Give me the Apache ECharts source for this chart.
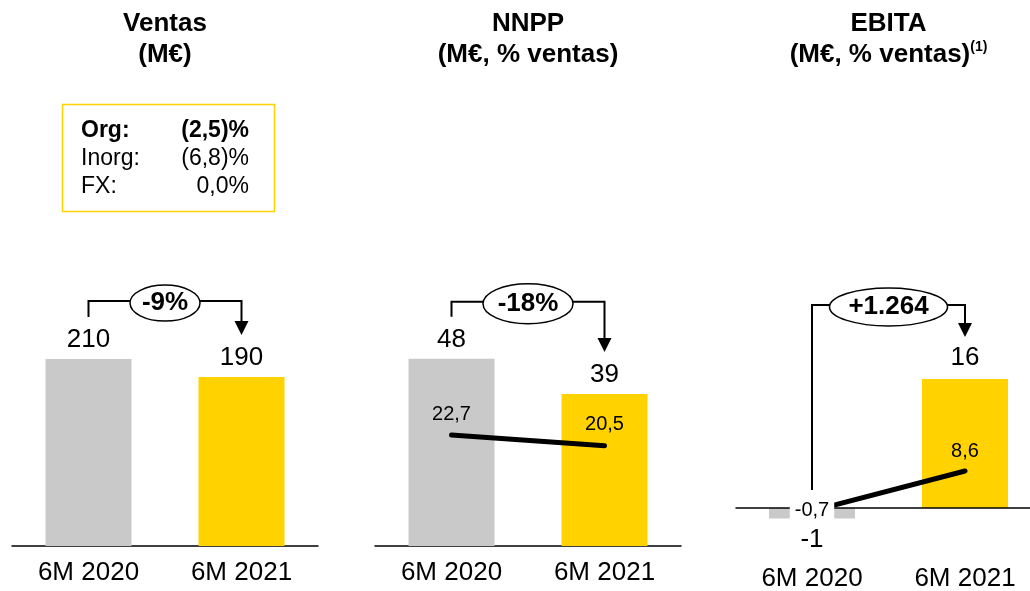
<!DOCTYPE html>
<html><head><meta charset="utf-8">
<script src="https://cdn.jsdelivr.net/npm/echarts@6/dist/echarts.min.js"></script>
<style>html,body{margin:0;padding:0;background:#fff}#c{width:1030px;height:591px}</style>
</head><body><div id="c"></div>
<script>
const categories = ['6M 2020', '6M 2021'];
const ventas = [210, 190];
const nnpp = [48, 39];
const nnppPct = [22.7, 20.5];
const ebita = [-1.3, 16];
const ebitaPct = [-0.7, 8.6];
const changeLabels = ['-9%', '-18%', '+1.264'];
const titleLine1 = ['Ventas', 'NNPP', 'EBITA'];
const titleLine2 = ['(M€)', '(M€, % ventas)', '(M€, % ventas)'];
const titleNote = ['', '', '(1)'];
const bridgeNames = ['Org:', 'Inorg:', 'FX:'];
const bridgeValues = ['(2,5)%', '(6,8)%', '0,0%'];

const GRAY = '#C9C9C9', YELLOW = '#FFD200';
const FONT = 'Liberation Sans, Arial, sans-serif';
const fmt1 = v => v.toFixed(1).replace('.', ',');

const chart = echarts.init(document.getElementById('c'));

function barData(vals) {
  return vals.map((v, i) => ({
    value: v,
    itemStyle: { color: i === 0 ? GRAY : YELLOW },
    label: { position: v < 0 ? 'bottom' : 'top' }
  }));
}
const barLabel = { show: true, fontSize: 26, color: '#000', fontFamily: FONT, distance: 6,
  formatter: p => String(Math.round(p.value)) };
const lineLabel = { show: true, position: 'top', distance: 10, fontSize: 20, color: '#000', fontFamily: FONT,
  formatter: p => fmt1(p.value) };
const lineStyle = { color: '#000', width: 5, cap: 'round' };

function xAx(grid, margin, showLine) {
  return {
    type: 'category', gridIndex: grid, data: categories,
    axisLine: { show: showLine, onZero: false, lineStyle: { color: '#000', width: 1.5 } },
    axisTick: { show: false },
    axisLabel: { fontSize: 26, color: '#000', fontFamily: FONT, margin: margin }
  };
}

const option = {
  animation: false,
  grid: [
    { left: 12, width: 306, top: 279, height: 267, outerBoundsMode: 'none', containLabel: false },
    { left: 375, width: 306, top: 279, height: 267, outerBoundsMode: 'none', containLabel: false },
    { left: 735.5, width: 306, top: 279, height: 280, outerBoundsMode: 'none', containLabel: false }
  ],
  xAxis: [xAx(0, 14, true), xAx(1, 14, true), xAx(2, 7, false)],
  yAxis: [
    { type: 'value', gridIndex: 0, min: 0, max: 300, show: false },
    { type: 'value', gridIndex: 1, min: 0, max: 68.46, show: false },
    { type: 'value', gridIndex: 1, min: 0, max: 54.6, show: false },
    { type: 'value', gridIndex: 2, min: -6.33, max: 28.4, show: false },
    { type: 'value', gridIndex: 2, min: -11.9, max: 53.3, show: false }
  ],
  series: [
    { type: 'bar', xAxisIndex: 0, yAxisIndex: 0, barWidth: 86, data: barData(ventas), label: barLabel },
    { type: 'bar', xAxisIndex: 1, yAxisIndex: 1, barWidth: 86, data: barData(nnpp), label: barLabel },
    { type: 'line', xAxisIndex: 1, yAxisIndex: 2, data: nnppPct, symbol: 'circle', symbolSize: 2,
      itemStyle: { color: '#000' }, lineStyle: lineStyle, label: lineLabel, z: 5 },
    { type: 'bar', xAxisIndex: 2, yAxisIndex: 3, barWidth: 86, data: barData(ebita),
      label: Object.assign({}, barLabel, { distance: 8 }),
      markLine: { silent: true, symbol: 'none', label: { show: false },
        lineStyle: { color: '#000', width: 1.5, type: 'solid' }, data: [{ yAxis: 0 }] } },
    { type: 'line', xAxisIndex: 2, yAxisIndex: 4, symbol: 'circle', symbolSize: 2,
      itemStyle: { color: '#000' }, lineStyle: lineStyle, label: lineLabel, z: 5,
      data: ebitaPct.map((v, i) => i === 0
        ? { value: v, label: { position: 'inside', backgroundColor: '#fff', padding: [3, 5, 3, 5] } }
        : { value: v, label: { distance: 8 } }) }
  ]
};
chart.setOption(option);

// annotations positioned from the axes
const panels = [
  { x: 0, y: 0, vals: ventas, gapTop: 58, rx: 35, ry: 18 },
  { x: 1, y: 1, vals: nnpp, gapTop: 57, rx: 45, ry: 20 },
  { x: 2, y: 3, vals: ebita, gapTop: 74, rx: 59, ry: 19 }
];
const g = [];
panels.forEach((p, k) => {
  const px = (i, v) => chart.convertToPixel({ xAxisIndex: p.x, yAxisIndex: p.y }, [i, v]);
  const a = px(0, p.vals[0]), b = px(1, p.vals[1]), z0 = px(0, 0);
  const topA = Math.min(a[1], z0[1]), topB = Math.min(b[1], z0[1]);
  const lineY = Math.min(topA, topB) - p.gapTop;
  const leftEnd = p.vals[0] >= 0 ? topA - 42 : z0[1] - 18;
  const tip = topB - 42;
  const cx = (a[0] + b[0]) / 2;
  g.push({ type: 'polyline', z: 10, shape: { points: [[a[0], leftEnd], [a[0], lineY], [b[0], lineY], [b[0], tip - 14]] },
    style: { stroke: '#000', lineWidth: 2, fill: null } });
  g.push({ type: 'polygon', z: 10, shape: { points: [[b[0] - 7, tip - 14], [b[0] + 7, tip - 14], [b[0], tip]] },
    style: { fill: '#000' } });
  g.push({ type: 'ellipse', z: 11, shape: { cx: cx, cy: lineY + 2, rx: p.rx, ry: p.ry },
    style: { fill: '#fff', stroke: '#000', lineWidth: 1.5 } });
  g.push({ type: 'text', z: 12, x: cx, y: lineY + 2, style: { text: changeLabels[k], fontSize: 26, fontWeight: 'bold',
    fontFamily: FONT, fill: '#000', align: 'center', verticalAlign: 'middle' } });
  g.push({ type: 'text', z: 12, x: cx, y: 24, style: { text: titleLine1[k], fontSize: 26, fontWeight: 'bold',
    fontFamily: FONT, fill: '#000', align: 'center', verticalAlign: 'middle' } });
  g.push({ type: 'text', z: 12, x: cx, y: 55, style: {
    text: '{a|' + titleLine2[k] + '}' + (titleNote[k] ? '{s|' + titleNote[k] + '}' : ''),
    rich: { a: { fontSize: 26, fontWeight: 'bold', fontFamily: FONT, fill: '#000', lineHeight: 30 },
            s: { fontSize: 14, fontWeight: 'bold', fontFamily: FONT, fill: '#000', verticalAlign: 'top', lineHeight: 30 } },
    align: 'center', verticalAlign: 'middle' } });
});
// bridge box
g.push({ type: 'rect', z: 10, shape: { x: 62.5, y: 104.5, width: 212, height: 107 },
  style: { fill: '#fff', stroke: YELLOW, lineWidth: 1.5 } });
bridgeNames.forEach((n, i) => {
  const y = 131 + i * 28;
  const w = i === 0 ? 'bold' : 'normal';
  g.push({ type: 'text', z: 12, x: 81, y: y, style: { text: n, fontSize: 23, fontWeight: w, fontFamily: FONT,
    fill: '#000', align: 'left', verticalAlign: 'middle' } });
  g.push({ type: 'text', z: 12, x: 249, y: y, style: { text: bridgeValues[i], fontSize: 23, fontWeight: w, fontFamily: FONT,
    fill: '#000', align: 'right', verticalAlign: 'middle' } });
});
chart.setOption({ graphic: { elements: g } });
</script>
</body></html>
